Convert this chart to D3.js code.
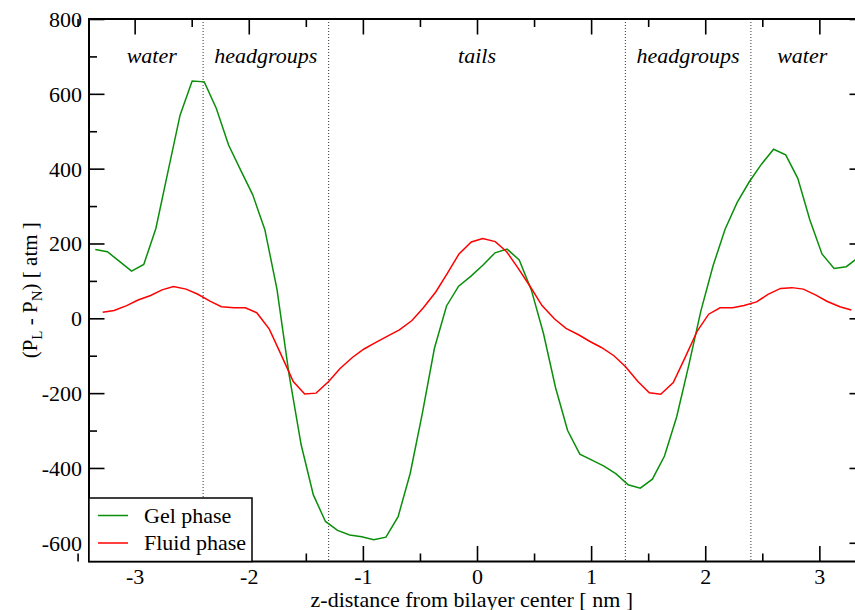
<!DOCTYPE html>
<html>
<head>
<meta charset="utf-8">
<script src="https://cdn.jsdelivr.net/npm/d3@7"></script>
<style>
  body { margin: 0; background: #fff; }
</style>
</head>
<body>
<div id="chart"></div>
<script>
// z positions (nm) of the gel phase profile
const zGel = [-3.345, -3.239, -3.133, -3.027, -2.920, -2.814, -2.708, -2.602, -2.496, -2.390,
  -2.284, -2.177, -2.071, -1.965, -1.859, -1.753, -1.647, -1.541, -1.434, -1.328,
  -1.222, -1.116, -1.010, -0.904, -0.798, -0.691, -0.585, -0.479, -0.373, -0.267,
  -0.161, -0.055, 0.051, 0.158, 0.264, 0.370, 0.476, 0.582, 0.688, 0.794,
  0.901, 1.007, 1.113, 1.219, 1.325, 1.431, 1.537, 1.643, 1.750, 1.856,
  1.962, 2.068, 2.174, 2.280, 2.386, 2.493, 2.599, 2.705, 2.811, 2.917,
  3.023, 3.129, 3.236, 3.342];
const gelPhase = [184, 178, 152, 126, 144, 240, 392, 543, 634, 632,
  561, 463, 396, 330, 237, 78, -150, -338, -472, -543,
  -567, -579, -584, -592, -585, -530, -414, -254, -80, 33,
  86, 112, 142, 175, 185, 156, 76, -40, -185, -300,
  -363, -379, -395, -416, -445, -454, -430, -368, -263, -125,
  20, 140, 238, 310, 365, 412, 452, 437, 374, 263,
  172, 133, 138, 163];

// z positions (nm) of the fluid phase profile
const zFluid = [-3.28, -3.18, -3.07, -2.97, -2.86, -2.76, -2.66, -2.55, -2.45, -2.34,
  -2.24, -2.13, -2.03, -1.93, -1.82, -1.72, -1.61, -1.51, -1.41, -1.30,
  -1.20, -1.09, -0.99, -0.89, -0.78, -0.68, -0.57, -0.47, -0.36, -0.26,
  -0.16, -0.05, 0.05, 0.16, 0.26, 0.36, 0.47, 0.57, 0.68, 0.78,
  0.89, 0.99, 1.09, 1.20, 1.30, 1.41, 1.51, 1.61, 1.72, 1.82,
  1.93, 2.03, 2.13, 2.24, 2.34, 2.45, 2.55, 2.66, 2.76, 2.86,
  2.97, 3.07, 3.18, 3.28];
const fluidPhase = [16, 21, 34, 49, 61, 76, 85, 78, 65, 46,
  31, 28, 28, 15, -29, -95, -169, -202, -200, -169,
  -134, -104, -82, -65, -47, -31, -6, 28, 71, 120,
  171, 204, 213, 205, 178, 134, 83, 34, -2, -27,
  -44, -62, -78, -100, -129, -169, -199, -203, -172, -107,
  -34, 11, 28, 28, 34, 44, 64, 80, 82, 78,
  62, 45, 31, 22];

const xTicks = [-3, -2, -1, 0, 1, 2, 3];
const xMinorTicks = [-3.5, -2.5, -1.5, -0.5, 0.5, 1.5, 2.5, 3.5];
const yTicks = [-600, -400, -200, 0, 200, 400, 600, 800];
const yMinorTicks = [-500, -300, -100, 100, 300, 500, 700];

const regionNames = ['water', 'headgroups', 'tails', 'headgroups', 'water'];
const regionCenters = [-2.85, -1.85, 0, 1.85, 2.85];
const regionBounds = [-2.4, -1.3, 1.3, 2.4];

const seriesNames = ['Gel phase', 'Fluid phase'];
const seriesColors = ['#0a8f0a', '#ff0000'];

const FONT = "'Liberation Serif', 'Times New Roman', Times, serif";

const margin = { top: 19, left: 89 },
  width = 776,
  height = 542.5;

const x = d3.scaleLinear().domain([-3.4, 3.4]).range([0, width]);
const y = d3.scaleLinear().domain([-650, 800]).range([height, 0]);

const root = d3
  .select('#chart')
  .append('svg')
  .attr('width', 855)
  .attr('height', 610)
  .attr('font-family', FONT);

const svg = root
  .append('g')
  .attr('transform', 'translate(' + margin.left + ',' + margin.top + ')');

svg.append('defs').append('clipPath').attr('id', 'plot-clip')
  .append('rect').attr('width', width).attr('height', height);

// region separators
svg
  .selectAll('.sep')
  .data(regionBounds)
  .enter()
  .append('line')
  .attr('class', 'sep')
  .attr('x1', (d) => x(d))
  .attr('x2', (d) => x(d))
  .attr('y1', 0)
  .attr('y2', height)
  .style('stroke', '#333')
  .style('stroke-width', 1)
  .style('stroke-dasharray', '1,2');

// region labels
svg
  .selectAll('.region')
  .data(regionNames)
  .enter()
  .append('text')
  .attr('class', 'region')
  .attr('x', (d, i) => x(regionCenters[i]))
  .attr('y', 44)
  .attr('font-family', FONT)
  .style('text-anchor', 'middle')
  .style('font-style', 'italic')
  .style('font-size', '22px')
  .text((d) => d);

// curves
const line = (zs) => d3.line().x((d, i) => x(zs[i])).y((d) => y(d));

svg.append('path')
  .datum(gelPhase)
  .attr('clip-path', 'url(#plot-clip)')
  .attr('d', line(zGel))
  .style('fill', 'none')
  .style('stroke', seriesColors[0])
  .style('stroke-width', 1.5);

svg.append('path')
  .datum(fluidPhase)
  .attr('clip-path', 'url(#plot-clip)')
  .attr('d', line(zFluid))
  .style('fill', 'none')
  .style('stroke', seriesColors[1])
  .style('stroke-width', 1.5);

// axes: major + minor ticks on all four sides
const fmt = (d) => String(d);
const addAxis = (axis, transform, labels) => {
  const g = svg.append('g').attr('transform', transform).call(axis);
  g.attr('font-family', FONT).attr('font-size', 22);
  g.select('.domain').remove();
  g.selectAll('.tick line').style('stroke', '#000').style('stroke-width', 1.6);
  if (!labels) g.selectAll('.tick text').remove();
  return g;
};

const bottom = addAxis(
  d3.axisBottom(x).tickValues(xTicks).tickSize(-15.5).tickFormat(fmt),
  'translate(0,' + height + ')', true);
bottom.selectAll('.tick text').attr('y', 22).attr('dy', 0);
addAxis(d3.axisBottom(x).tickValues(xMinorTicks).tickSize(-8), 'translate(0,' + height + ')', false);
addAxis(d3.axisTop(x).tickValues(xTicks).tickSize(-15.5), 'translate(0,0)', false);
addAxis(d3.axisTop(x).tickValues(xMinorTicks).tickSize(-8), 'translate(0,0)', false);

const left = addAxis(
  d3.axisLeft(y).tickValues(yTicks).tickSize(-15.5).tickFormat(fmt),
  'translate(0,0)', true);
left.selectAll('.tick text').attr('x', -7).attr('dy', '0.34em');
addAxis(d3.axisLeft(y).tickValues(yMinorTicks).tickSize(-8), 'translate(0,0)', false);
addAxis(d3.axisRight(y).tickValues(yTicks).tickSize(-15.5), 'translate(' + width + ',0)', false);
addAxis(d3.axisRight(y).tickValues(yMinorTicks).tickSize(-8), 'translate(' + width + ',0)', false);

// frame
svg.append('rect')
  .attr('width', width)
  .attr('height', height)
  .style('fill', 'none')
  .style('stroke', '#000')
  .style('stroke-width', 2);

// axis titles
svg.append('text')
  .attr('x', x(-0.045))
  .attr('y', height + 45)
  .attr('font-family', FONT)
  .style('text-anchor', 'middle')
  .style('font-size', '22px')
  .text('z-distance from bilayer center [ nm ]');

const yTitle = svg.append('text')
  .attr('transform', 'translate(' + (37 - margin.left) + ',' + (height / 2) + ') rotate(-90)')
  .attr('font-family', FONT)
  .style('text-anchor', 'middle')
  .style('font-size', '21px');
yTitle.append('tspan').text('(P');
yTitle.append('tspan').attr('dy', 5).style('font-size', '15px').text('L');
yTitle.append('tspan').attr('dy', -5).text(' - P');
yTitle.append('tspan').attr('dy', 5).style('font-size', '15px').text('N');
yTitle.append('tspan').attr('dy', -5).text(') [ atm ]');

// legend
const legend = svg.append('g').attr('transform', 'translate(0,' + (height - 63.5) + ')');
legend.append('rect')
  .attr('width', 163)
  .attr('height', 63.5)
  .style('fill', '#fff')
  .style('stroke', '#000')
  .style('stroke-width', 1.5);

const items = legend
  .selectAll('.item')
  .data(seriesNames)
  .enter()
  .append('g')
  .attr('class', 'item')
  .attr('transform', (d, i) => 'translate(0,' + (17.5 + i * 27.5) + ')');

items.append('line')
  .attr('x1', 9)
  .attr('x2', 39)
  .style('stroke', (d, i) => seriesColors[i])
  .style('stroke-width', 1.5);

items.append('text')
  .attr('x', 55)
  .attr('y', 7)
  .attr('font-family', FONT)
  .style('font-size', '22px')
  .text((d) => d);
</script>
</body>
</html>
